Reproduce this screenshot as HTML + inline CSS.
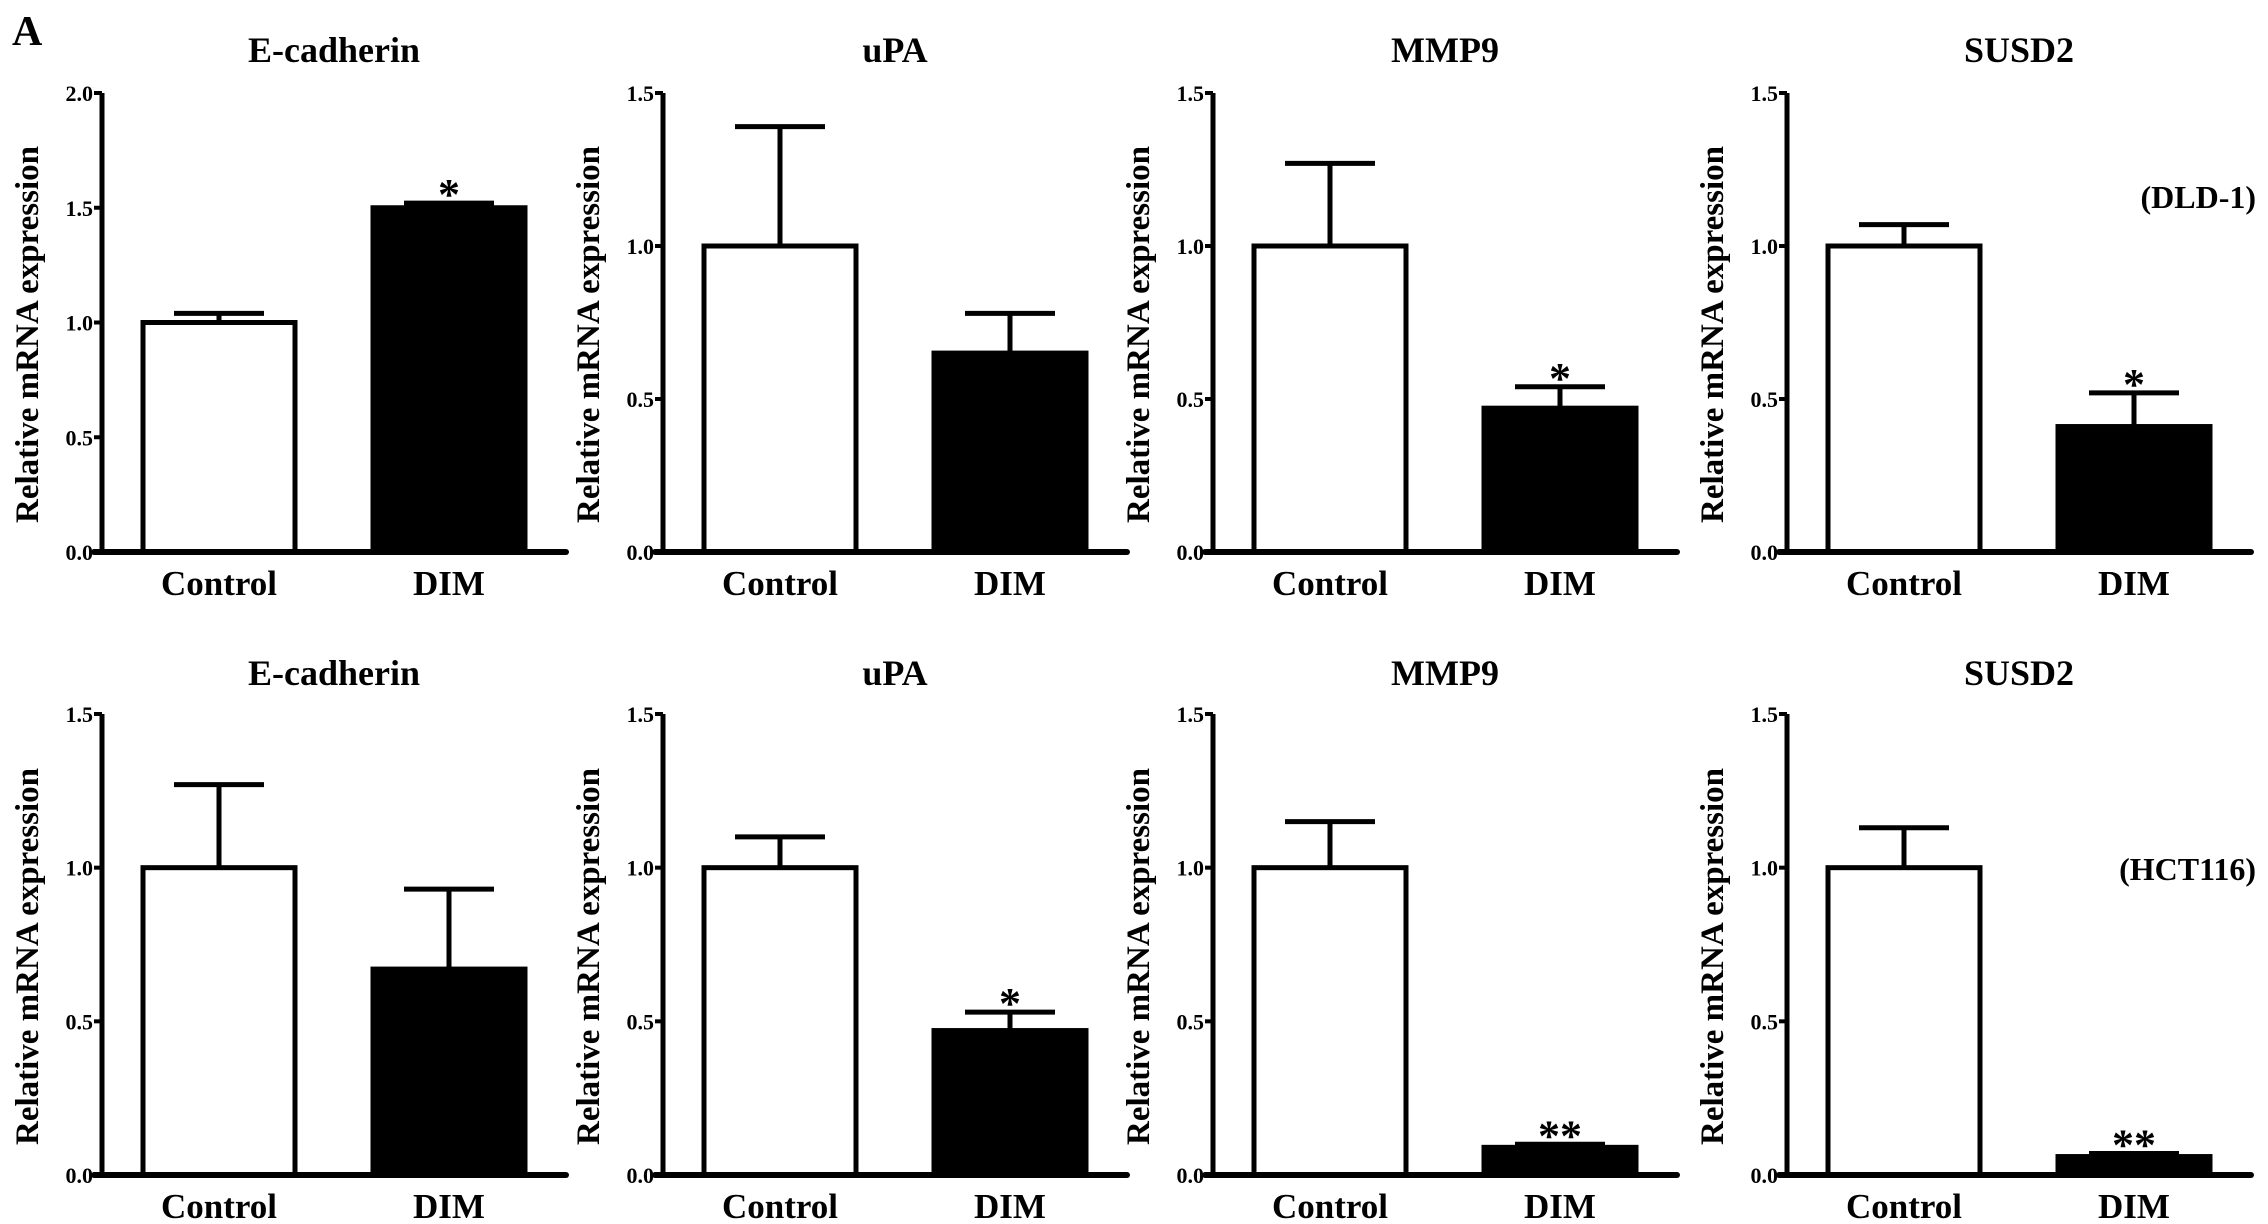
<!DOCTYPE html>
<html><head><meta charset="utf-8"><style>
html,body{margin:0;padding:0;background:#fff;}
svg{display:block;}
svg text{font-family:"Liberation Serif","DejaVu Serif","Times New Roman",serif;font-weight:bold;}
</style></head><body>
<svg id="fig" width="2268" height="1224" viewBox="0 0 2268 1224" font-family="Liberation Serif, DejaVu Serif, serif" font-weight="bold">
<text x="12" y="45" font-size="42">A</text>
<text x="2256" y="208" font-size="32" text-anchor="end">(DLD-1)</text>
<text x="2256" y="880" font-size="32" text-anchor="end">(HCT116)</text>
</svg>
<script>
const genes = ["E-cadherin","uPA","MMP9","SUSD2","E-cadherin","uPA","MMP9","SUSD2"];
const categories = ["Control","DIM"];
const controlMeans = [1.0,1.0,1.0,1.0,1.0,1.0,1.0,1.0];
const controlErr = [0.04,0.39,0.27,0.07,0.27,0.10,0.15,0.13];
const dimMeans = [1.5,0.65,0.47,0.41,0.67,0.47,0.09,0.06];
const dimErr = [0.02,0.13,0.07,0.11,0.26,0.06,0.01,0.01];
const signif = ["*","","*","*","","*","**","**"];
const yMax = [2.0,1.5,1.5,1.5,1.5,1.5,1.5,1.5];
const ticks2 = ["0.0","0.5","1.0","1.5","2.0"];
const ticks15 = ["0.0","0.5","1.0","1.5"];

const NS="http://www.w3.org/2000/svg";
const svg=document.getElementById('fig');
function mk(tag,attrs,parent){const e=document.createElementNS(NS,tag);for(const k in attrs)e.setAttribute(k,attrs[k]);(parent||svg).appendChild(e);return e;}
const axisX=[102,663,1213,1787];
const rows=[{zero:552,top:93},{zero:1175,top:714}];
for(let i=0;i<8;i++){
  const r=Math.floor(i/4), c=i%4;
  const A=axisX[c], Z=rows[r].zero, T=rows[r].top;
  const g=mk('g',{});
  
  
  const y=v=>Z-(v/yMax[i])*(Z-T);
  const xs=[A+117,A+347];
  const t=mk('text',{x:A+232,y:Z-490,'font-size':36,'text-anchor':'middle'},g);
  t.textContent=genes[i];
  
  
  const yt=mk('text',{x:0,y:0,'font-size':33,'text-anchor':'middle',transform:`translate(${A-64},${(Z+T)/2+12}) rotate(-90)`},g);
  yt.textContent='Relative mRNA expression';
  
  
  const means=[controlMeans[i],dimMeans[i]], errs=[controlErr[i],dimErr[i]];
  for(let b=0;b<2;b++){
    const cx=xs[b], top=y(means[b]), et=y(means[b]+errs[b]);
    const ln=mk('line',{x1:cx,x2:cx,y1:top,y2:et,stroke:'#000','stroke-width':5},g);
    
    
    const cap=mk('line',{x1:cx-45,x2:cx+45,y1:et,y2:et,stroke:'#000','stroke-width':5},g);
    
    
    const rect=mk('rect',{x:cx-76,y:top,width:152,height:Z-top,fill:b===0?'#fff':'#000',stroke:'#000','stroke-width':5},g);
    
    
    const xl=mk('text',{x:cx,y:Z+43,'font-size':35,'text-anchor':'middle'},g);
    xl.textContent=categories[b];
    
    
  }
  if(signif[i]){
    const s=mk('text',{x:xs[1],y:y(dimMeans[i]+dimErr[i])+6,'font-size':44,'text-anchor':'middle'},g);
    s.textContent=signif[i];
    
    
  }
  const ya=mk('line',{x1:A,x2:A,y1:T,y2:Z+2,stroke:'#000','stroke-width':5},g);
  
  
  const xa=mk('line',{x1:A-8,x2:A+464,y1:Z,y2:Z,stroke:'#000','stroke-width':6,'stroke-linecap':'round'},g);
  
  
  const tl=yMax[i]===2.0?ticks2:ticks15;
  tl.forEach(lab=>{
    const v=parseFloat(lab), ty=y(v);
    const tk=mk('line',{x1:A-8,x2:A,y1:ty,y2:ty,stroke:'#000','stroke-width':4},g);
    
    
    const tt=mk('text',{x:A-9,y:ty+8,'font-size':22,'text-anchor':'end'},g);
    tt.textContent=lab;
    
    
  });
}
</script>
</body></html>
